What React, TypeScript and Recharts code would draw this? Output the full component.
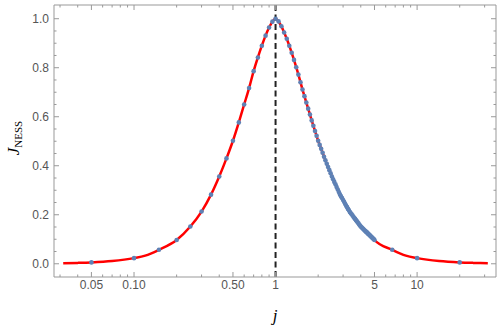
import { ComposedChart, Line, Scatter, XAxis, YAxis, ReferenceLine } from 'recharts'

// numerical points, left branch (j <= 1)
const LEFT_J = [0.05, 0.1, 0.15, 0.2, 0.25, 0.3, 0.35, 0.4, 0.45, 0.5, 0.55, 0.6, 0.65, 0.7, 0.75, 0.8, 0.85, 0.9, 0.95, 1]
const LEFT_F = [0.0055, 0.023, 0.057, 0.097, 0.152, 0.213, 0.282, 0.356, 0.43, 0.502, 0.577, 0.65, 0.717, 0.786, 0.842, 0.89, 0.931, 0.964, 0.988, 1.0]

// right branch (j > 1), dense between 1 and 5
const RIGHT_J = [
  1.05, 1.1, 1.15, 1.2, 1.25, 1.3, 1.35, 1.4, 1.45, 1.5, 1.55, 1.6, 1.65, 1.7, 1.75, 1.8, 1.85, 1.9, 1.95, 2,
  2.05, 2.1, 2.15, 2.2, 2.25, 2.3, 2.35, 2.4, 2.45, 2.5, 2.55, 2.6, 2.65, 2.7, 2.75, 2.8, 2.85, 2.9, 2.95, 3,
  3.05, 3.1, 3.15, 3.2, 3.25, 3.3, 3.35, 3.4, 3.45, 3.5, 3.55, 3.6, 3.65, 3.7, 3.75, 3.8, 3.85, 3.9, 3.95, 4,
  4.05, 4.1, 4.15, 4.2, 4.25, 4.3, 4.35, 4.4, 4.45, 4.5, 4.55, 4.6, 4.65, 4.7, 4.75, 4.8, 4.85, 4.9, 4.95, 5,
  6.67, 10, 20,
]
const RIGHT_F = [
  0.989, 0.969, 0.944, 0.918, 0.89, 0.861, 0.832, 0.802, 0.772, 0.741, 0.711, 0.684, 0.658, 0.633, 0.609, 0.585, 0.563, 0.542, 0.522, 0.502,
  0.485, 0.469, 0.453, 0.437, 0.422, 0.408, 0.395, 0.382, 0.369, 0.356, 0.345, 0.334, 0.324, 0.313, 0.303, 0.293, 0.283, 0.275, 0.268, 0.26,
  0.253, 0.245, 0.238, 0.231, 0.224, 0.218, 0.211, 0.206, 0.202, 0.197, 0.192, 0.187, 0.183, 0.178, 0.174, 0.169, 0.165, 0.16, 0.156, 0.152,
  0.149, 0.146, 0.143, 0.14, 0.137, 0.134, 0.131, 0.129, 0.126, 0.123, 0.12, 0.118, 0.115, 0.112, 0.11, 0.107, 0.105, 0.102, 0.1, 0.097,
  0.057, 0.023, 0.0055,
]

// extra samples of the analytic curve out in the tails
const TAIL_J = [0.0316, 0.04, 0.07, 0.12, 8.33, 14.3, 25, 31.6]
const TAIL_F = [0.0023, 0.0036, 0.011, 0.033, 0.033, 0.011, 0.0036, 0.0023]

const X_MAJOR = [0.05, 0.1, 0.5, 1, 5, 10]
const X_MINOR = [0.03, 0.04, 0.06, 0.07, 0.08, 0.09, 0.2, 0.3, 0.4, 0.6, 0.7, 0.8, 0.9, 2, 3, 4, 6, 7, 8, 9, 20, 30]
const X_LABELS = ['0.05', '0.10', '0.50', '1', '5', '10']
const Y_MAJOR = [0, 0.2, 0.4, 0.6, 0.8, 1]
const Y_MINOR = [0.05, 0.1, 0.15, 0.25, 0.3, 0.35, 0.45, 0.5, 0.55, 0.65, 0.7, 0.75, 0.85, 0.9, 0.95]

const FRAME = '#999999'
const TEXT = '#555555'

const points = [...LEFT_J.map((j, i) => ({ j, f: LEFT_F[i] })), ...RIGHT_J.map((j, i) => ({ j, f: RIGHT_F[i] }))]
const curve = [...points, ...TAIL_J.map((j, i) => ({ j, f: TAIL_F[i] }))].sort((a, b) => a.j - b.j)

const xTicks = [...X_MAJOR, ...X_MINOR].sort((a, b) => a - b)
const yTicks = [...Y_MAJOR, ...Y_MINOR].sort((a, b) => a - b)

function XTick(props: any) {
  const { x, y, payload, side } = props
  const idx = X_MAJOR.indexOf(payload.value)
  const len = idx >= 0 ? 5 : 2.5
  const d = side === 'bottom' ? -len : len
  return (
    <g>
      <line x1={x} x2={x} y1={y} y2={y + d} stroke={FRAME} />
      {side === 'bottom' && idx >= 0 && (
        <text x={x} y={y + 12} textAnchor="middle" fontSize={12} fill={TEXT} fontFamily="Liberation Sans, Arial, sans-serif">
          {X_LABELS[idx]}
        </text>
      )}
    </g>
  )
}

function YTick(props: any) {
  const { x, y, payload, side } = props
  const major = Y_MAJOR.includes(payload.value)
  const len = major ? 5 : 2.5
  const d = side === 'left' ? len : -len
  return (
    <g>
      <line x1={x} x2={x + d} y1={y} y2={y} stroke={FRAME} />
      {side === 'left' && major && (
        <text x={x - 5} y={y + 4} textAnchor="end" fontSize={12} fill={TEXT} fontFamily="Liberation Sans, Arial, sans-serif">
          {payload.value.toFixed(1)}
        </text>
      )}
    </g>
  )
}

const Dot = (p: any) => <circle cx={p.cx} cy={p.cy} r={2.3} fill="#5e81b5" />

export default function App() {
  const xDomain = [0.0272, 36.1]
  const yDomain = [-0.054, 1.056]
  return (
    <div style={{ position: 'absolute', left: 0, top: 0, width: 498, height: 332, background: '#fff' }}>
      <ComposedChart width={498} height={332} margin={{ top: 4, right: 1, bottom: 25, left: 14 }}>
        <XAxis
          dataKey="j" type="number" scale="log" domain={xDomain} allowDataOverflow
          ticks={xTicks} interval={0} height={30} tickSize={0} tickMargin={0}
          axisLine={{ stroke: FRAME }} tickLine={false}
          tick={(p: any) => <XTick {...p} side="bottom" />}
        />
        <XAxis
          xAxisId="top" orientation="top" dataKey="j" type="number" scale="log" domain={xDomain} allowDataOverflow
          ticks={xTicks} interval={0} height={1} tickSize={0} tickMargin={0}
          axisLine={{ stroke: FRAME }} tickLine={false}
          tick={(p: any) => <XTick {...p} side="top" />}
        />
        <YAxis
          type="number" domain={yDomain} allowDataOverflow ticks={yTicks} interval={0}
          width={40} tickSize={0} tickMargin={0} axisLine={{ stroke: FRAME }} tickLine={false}
          tick={(p: any) => <YTick {...p} side="left" />}
        />
        <YAxis
          yAxisId="right" orientation="right" type="number" domain={yDomain} allowDataOverflow ticks={yTicks} interval={0}
          width={1} tickSize={0} tickMargin={0} axisLine={{ stroke: FRAME }} tickLine={false}
          tick={(p: any) => <YTick {...p} side="right" />}
        />
        <Line
          data={curve} dataKey="f" type="monotone" stroke="#ff0000" strokeWidth={2.5}
          dot={false} activeDot={false} isAnimationActive={false}
        />
        <Scatter data={points} dataKey="f" shape={Dot} isAnimationActive={false} />
        <ReferenceLine x={1} stroke="#222222" strokeWidth={2} strokeDasharray="6 3.5" />
      </ComposedChart>
      <svg width={498} height={332} style={{ position: 'absolute', left: 0, top: 0, pointerEvents: 'none' }}>
        <text x={275} y={321} textAnchor="middle" fontSize={17} fontStyle="italic" fontFamily="Liberation Serif, serif" fill="#000">
          j
        </text>
        <text transform="translate(19,138) rotate(-90)" textAnchor="middle" fontFamily="Liberation Serif, serif" fill="#000">
          <tspan fontStyle="italic" fontSize={17}>J</tspan>
          <tspan fontSize={11} dy={3}>NESS</tspan>
        </text>
      </svg>
    </div>
  )
}
